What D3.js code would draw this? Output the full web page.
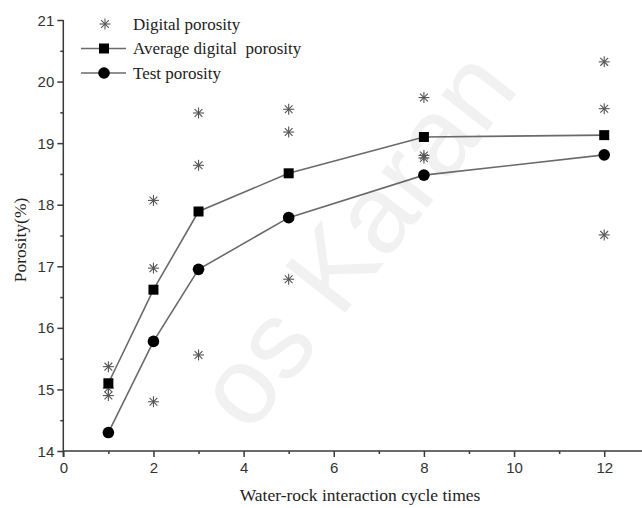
<!DOCTYPE html>
<html>
<head>
<meta charset="utf-8">
<script src="https://cdn.jsdelivr.net/npm/d3@7/dist/d3.min.js"></script>
<style>
  html, body { margin: 0; padding: 0; background: #fff; }
  svg { display: block; }
</style>
</head>
<body>
<svg id="chart" width="642" height="508"></svg>
<script>
// Water-rock interaction cycles
const cycles = [1, 2, 3, 5, 8, 12];
// Three digital porosity samples per cycle count (%)
const digitalA = [15.37, 18.07, 19.49, 19.55, 19.74, 20.32];
const digitalB = [15.02, 16.97, 18.64, 19.18, 18.80, 19.56];
const digitalC = [14.90, 14.80, 15.56, 16.79, 18.76, 17.51];
// Average of the digital samples (%)
const avgDigital = [15.10, 16.62, 17.89, 18.51, 19.10, 19.13];
// Laboratory test porosity (%)
const testPorosity = [14.30, 15.78, 16.95, 17.79, 18.48, 18.81];

const xMajor = [0, 2, 4, 6, 8, 10, 12];
const xMinor = [1, 3, 5, 7, 9, 11, 13];
const yMajor = [14, 15, 16, 17, 18, 19, 20, 21];
const yMinor = [14.5, 15.5, 16.5, 17.5, 18.5, 19.5, 20.5];

const legendLabels = ["Digital porosity", "Average digital  porosity", "Test porosity"];
const xTitle = "Water-rock interaction cycle times";
const yTitle = "Porosity(%)";

const svg = d3.select("#chart");
const axisColor = "#3a3a3a";
const lineColor = "#6a6a6a";
const serif = "'Liberation Serif', 'Times New Roman', serif";
const sans = "'Liberation Sans', Arial, sans-serif";

const x = d3.scaleLinear().domain([0, 13]).range([63.3, 649.3]);
const y = d3.scaleLinear().domain([14, 21]).range([451, 20]);

// faint background watermark
svg.append("text")
  .attr("transform", "translate(385,262) rotate(-52)")
  .attr("text-anchor", "middle")
  .attr("font-family", sans)
  .attr("font-size", 110)
  .attr("fill", "#f1f1f1")
  .text("os Karan");

// Axes
const yAxis = svg.append("g").attr("transform", `translate(${x(0)},0)`);
yAxis.call(d3.axisLeft(y).tickValues(yMajor).tickSize(6).tickFormat(d3.format("d")));
yAxis.append("g").call(d3.axisLeft(y).tickValues(yMinor).tickSize(3).tickFormat(""));
yAxis.selectAll(".domain").remove();
yAxis.append("line").attr("x1", 0).attr("x2", 0).attr("y1", y(21)).attr("y2", y(14) + 6);

const xAxis = svg.append("g").attr("transform", `translate(0,${y(14)})`);
xAxis.call(d3.axisBottom(x).tickValues(xMajor).tickSize(6).tickFormat(d3.format("d")));
xAxis.append("g").call(d3.axisBottom(x).tickValues(xMinor).tickSize(3).tickFormat(""));
xAxis.selectAll(".domain").remove();
xAxis.append("line").attr("x1", x(0)).attr("x2", x(13)).attr("y1", 0).attr("y2", 0);

[yAxis, xAxis].forEach(g => {
  g.selectAll("line").attr("stroke", axisColor).attr("stroke-width", 1.5);
  g.selectAll("path").remove();
  g.selectAll("text")
    .attr("font-family", sans)
    .attr("font-size", 15)
    .attr("fill", "#333");
});
yAxis.selectAll("text").attr("x", -9).attr("dy", "0.34em");
xAxis.selectAll("text").attr("y", 11).attr("dy", "0.75em");

// Axis titles
svg.append("text")
  .attr("x", 360).attr("y", 501)
  .attr("text-anchor", "middle")
  .attr("font-family", serif).attr("font-size", 17.5).attr("fill", "#222")
  .text(xTitle);
svg.append("text")
  .attr("transform", "translate(26,240) rotate(-90)")
  .attr("text-anchor", "middle")
  .attr("font-family", serif).attr("font-size", 17.5).attr("fill", "#222")
  .text(yTitle);

// Asterisk marker: plus and cross overlaid
function asterisk(g, cx, cy, r) {
  const k = r * Math.SQRT1_2;
  const segs = [[-r, 0, r, 0], [0, -r, 0, r], [-k, -k, k, k], [-k, k, k, -k]];
  segs.forEach(s => {
    g.append("line")
      .attr("x1", cx + s[0]).attr("y1", cy + s[1])
      .attr("x2", cx + s[2]).attr("y2", cy + s[3])
      .attr("stroke", "#555").attr("stroke-width", 1.1);
  });
}

const plot = svg.append("g");

// Connecting lines
const line = d3.line().x(d => x(d[0])).y(d => y(d[1]));
plot.append("path")
  .datum(cycles.map((c, i) => [c, avgDigital[i]]))
  .attr("d", line).attr("fill", "none")
  .attr("stroke", lineColor).attr("stroke-width", 1.6);
plot.append("path")
  .datum(cycles.map((c, i) => [c, testPorosity[i]]))
  .attr("d", line).attr("fill", "none")
  .attr("stroke", lineColor).attr("stroke-width", 1.6);

// Digital porosity samples
const stars = plot.append("g");
[digitalA, digitalB, digitalC].forEach(series => {
  series.forEach((v, i) => asterisk(stars, x(cycles[i]), y(v), 5.5));
});

// Average digital porosity squares
const sq = 10;
plot.selectAll("rect.avg")
  .data(cycles.map((c, i) => [c, avgDigital[i]]))
  .join("rect").attr("class", "avg")
  .attr("x", d => x(d[0]) - sq / 2).attr("y", d => y(d[1]) - sq / 2)
  .attr("width", sq).attr("height", sq).attr("fill", "#000");

// Test porosity circles
plot.selectAll("circle.test")
  .data(cycles.map((c, i) => [c, testPorosity[i]]))
  .join("circle").attr("class", "test")
  .attr("cx", d => x(d[0])).attr("cy", d => y(d[1]))
  .attr("r", 5.8).attr("fill", "#000");

// Legend
const legend = svg.append("g");
const rows = [24, 48.5, 73];
asterisk(legend, 105, rows[0], 5.5);
[1, 2].forEach(i => {
  legend.append("line").attr("x1", 81).attr("x2", 126)
    .attr("y1", rows[i]).attr("y2", rows[i])
    .attr("stroke", lineColor).attr("stroke-width", 1.6);
});
legend.append("rect").attr("x", 104 - sq / 2).attr("y", rows[1] - sq / 2)
  .attr("width", sq).attr("height", sq).attr("fill", "#000");
legend.append("circle").attr("cx", 104).attr("cy", rows[2]).attr("r", 5.8).attr("fill", "#000");
legendLabels.forEach((t, i) => {
  legend.append("text")
    .attr("x", 133).attr("y", rows[i]).attr("dy", "0.33em")
    .attr("font-family", serif).attr("font-size", 17).attr("fill", "#222")
    .style("white-space", "pre")
    .text(t);
});
</script>
</body>
</html>
